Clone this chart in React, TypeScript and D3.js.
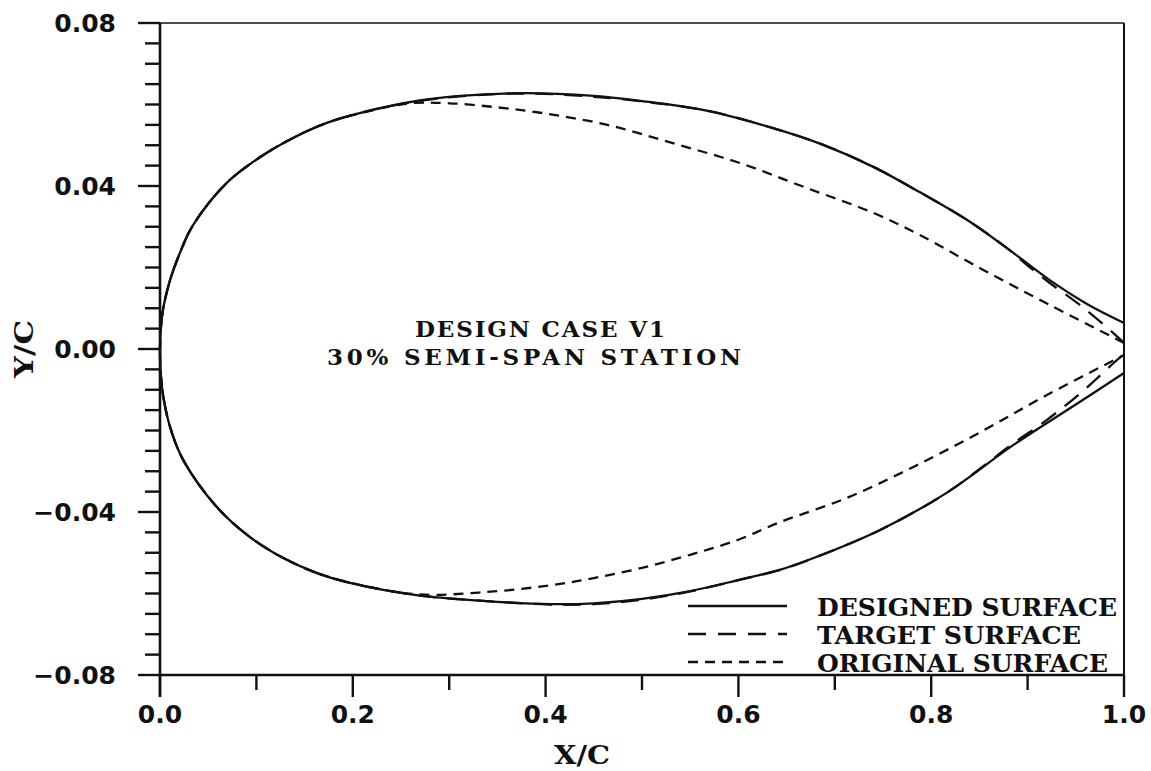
import React from "react";
import * as d3 from "d3";

// ---- data (x/c, y/c) ----
const designedUpper: [number, number][] = [
  [0.0, -0.001], [0.001, 0.0055], [0.0035, 0.0102], [0.0104, 0.0169], [0.02, 0.0232], [0.034, 0.0303], [0.069, 0.0407],
  [0.104, 0.0471], [0.138, 0.0518], [0.173, 0.0555], [0.207, 0.0579], [0.259, 0.0606],
  [0.311, 0.0621], [0.38, 0.0628], [0.45, 0.0621], [0.498, 0.0609], [0.567, 0.0585],
  [0.636, 0.0542], [0.688, 0.0501], [0.74, 0.0447], [0.788, 0.0385], [0.837, 0.0317],
  [0.88, 0.0245], [0.923, 0.0169], [0.962, 0.011], [1.0, 0.0064],
];
const designedLower: [number, number][] = [
  [0.0, -0.001], [0.001, -0.0068], [0.0035, -0.0118], [0.0104, -0.0191], [0.024, -0.0272], [0.059, -0.0388],
  [0.093, -0.0461], [0.128, -0.0513], [0.163, -0.055], [0.197, -0.0574], [0.266, -0.0604],
  [0.335, -0.0618], [0.405, -0.0626], [0.45, -0.0624], [0.5, -0.0613], [0.55, -0.0594],
  [0.6, -0.0567], [0.643, -0.0542], [0.678, -0.0513], [0.747, -0.0444], [0.816, -0.0353],
  [0.885, -0.0236], [0.954, -0.013], [1.0, -0.0059],
];
const targetUpper: [number, number][] = [
  [0.0, -0.001], [0.001, 0.0055], [0.0035, 0.0102], [0.0104, 0.0169], [0.02, 0.0232], [0.034, 0.0303], [0.069, 0.0407],
  [0.104, 0.0471], [0.138, 0.0518], [0.173, 0.0555], [0.207, 0.0579], [0.259, 0.0605],
  [0.311, 0.062], [0.38, 0.0627], [0.45, 0.0619], [0.498, 0.0608], [0.567, 0.0585],
  [0.636, 0.0542], [0.688, 0.0501], [0.74, 0.0447], [0.788, 0.0385], [0.837, 0.0317],
  [0.88, 0.0245], [0.902, 0.0201], [0.923, 0.0162], [0.957, 0.0103], [0.989, 0.0039], [1.0, 0.0015],
];
const targetLower: [number, number][] = [
  [0.0, -0.001], [0.001, -0.0068], [0.0035, -0.0118], [0.0104, -0.0191], [0.024, -0.0272], [0.059, -0.0388],
  [0.093, -0.0461], [0.128, -0.0513], [0.163, -0.055], [0.197, -0.0574], [0.266, -0.0604],
  [0.335, -0.0618], [0.405, -0.0627], [0.45, -0.0626], [0.5, -0.0615], [0.55, -0.0595],
  [0.6, -0.0567], [0.643, -0.0542], [0.678, -0.0513], [0.747, -0.0444], [0.816, -0.0353],
  [0.885, -0.0232], [0.92, -0.0174], [0.954, -0.011], [0.989, -0.0035], [1.0, -0.0012],
];
const originalUpper: [number, number][] = [
  [0.0, -0.001], [0.001, 0.0055], [0.0035, 0.0102], [0.0104, 0.0169], [0.02, 0.0232], [0.034, 0.0303], [0.069, 0.0407],
  [0.104, 0.0471], [0.138, 0.0518], [0.173, 0.0555], [0.207, 0.0578], [0.259, 0.0603],
  [0.3, 0.0603], [0.35, 0.0593], [0.397, 0.0579], [0.464, 0.055], [0.532, 0.0505],
  [0.602, 0.0456], [0.671, 0.0395], [0.74, 0.0334], [0.788, 0.028], [0.854, 0.0194],
  [0.923, 0.0108], [1.0, 0.0015],
];
const originalLower: [number, number][] = [
  [0.0, -0.001], [0.001, -0.0068], [0.0035, -0.0118], [0.0104, -0.0191], [0.024, -0.0272], [0.059, -0.0388],
  [0.093, -0.0461], [0.128, -0.0513], [0.163, -0.055], [0.197, -0.0573], [0.266, -0.0602],
  [0.335, -0.0597], [0.405, -0.058], [0.45, -0.0562], [0.5, -0.0537], [0.55, -0.0505],
  [0.6, -0.0468], [0.643, -0.0425], [0.713, -0.0365], [0.781, -0.029], [0.851, -0.0204],
  [0.92, -0.0113], [1.0, -0.0015],
];

const xMajorTicks = [0, 0.2, 0.4, 0.6, 0.8, 1.0];
const xMinorTicks = [0.1, 0.3, 0.5, 0.7, 0.9];
const yMajorTicks = [-0.08, -0.04, 0, 0.04, 0.08];
const yMinorStep = 0.005;
const xTickLabels = ["0.0", "0.2", "0.4", "0.6", "0.8", "1.0"];
const yTickLabels = ["\u22120.08", "\u22120.04", "0.00", "0.04", "0.08"];
const legendLabels = ["DESIGNED SURFACE", "TARGET SURFACE", "ORIGINAL SURFACE"];
const legendWidths = [300, 264, 291];
const annotation = ["DESIGN CASE V1", "30% SEMI-SPAN STATION"];

const W = 1151;
const H = 771;

export default function App() {
  const x = d3.scaleLinear().domain([0, 1]).range([160, 1124]);
  const y = d3.scaleLinear().domain([-0.08, 0.08]).range([675, 23]);

  const line = d3
    .line<[number, number]>()
    .x((d) => x(d[0]))
    .y((d) => y(d[1]))
    .curve(d3.curveCatmullRom.alpha(0.5));

  const closed = (u: [number, number][], l: [number, number][]) =>
    line([...u.slice().reverse(), ...l.slice(1)]) || "";

  const yMinor = d3.range(-0.08, 0.08 + 1e-9, yMinorStep).filter(
    (v) => !yMajorTicks.some((m) => Math.abs(m - v) < 1e-6)
  );

  const tickFont = "'DejaVu Sans', sans-serif";
  const serifFont = "'DejaVu Serif', 'Liberation Serif', serif";

  const series = [
    { d: closed(originalUpper, originalLower), dash: "10,7" },
    { d: closed(targetUpper, targetLower), dash: "18,11" },
    { d: closed(designedUpper, designedLower), dash: "none" },
  ];

  const legendDash = ["none", "18,12", "10,7"];

  return (
    <svg width={W} height={H} style={{ position: "absolute", left: 0, top: 0, background: "#fff" }}>
      <rect x={0} y={0} width={W} height={H} fill="#fff" />
      {/* frame */}
      <line x1={x(0)} x2={x(1)} y1={y(0.08)} y2={y(0.08)} stroke="#111" strokeWidth={1.6} />
      <line x1={x(1)} x2={x(1)} y1={y(0.08)} y2={y(-0.08) + 22} stroke="#111" strokeWidth={2} />
      <line x1={x(0)} x2={x(1)} y1={y(-0.08)} y2={y(-0.08)} stroke="#111" strokeWidth={2.6} />
      <line x1={x(0)} x2={x(0)} y1={y(0.08)} y2={y(-0.08) + 22} stroke="#111" strokeWidth={2.6} />

      {/* y ticks */}
      {yMajorTicks.map((v, i) => (
        <g key={"ym" + i}>
          <line x1={x(0) - 22} x2={x(0)} y1={y(v)} y2={y(v)} stroke="#111" strokeWidth={2.4} />
          <text
            x={x(0) - 44}
            y={y(v)}
            dy="0.36em"
            textAnchor="end"
            fontFamily={tickFont}
            fontWeight="bold"
            fontSize={25}
            fill="#111"
          >
            {yTickLabels[i]}
          </text>
        </g>
      ))}
      {yMinor.map((v, i) => (
        <line key={"yn" + i} x1={x(0) - 15} x2={x(0)} y1={y(v)} y2={y(v)} stroke="#111" strokeWidth={2.4} />
      ))}

      {/* x ticks */}
      {xMajorTicks.map((v, i) => (
        <g key={"xm" + i}>
          <line x1={x(v)} x2={x(v)} y1={y(-0.08)} y2={y(-0.08) + 22} stroke="#111" strokeWidth={2.4} />
          <text
            x={x(v)}
            y={723}
            textAnchor="middle"
            fontFamily={tickFont}
            fontWeight="bold"
            fontSize={25}
            fill="#111"
          >
            {xTickLabels[i]}
          </text>
        </g>
      ))}
      {xMinorTicks.map((v, i) => (
        <line key={"xn" + i} x1={x(v)} x2={x(v)} y1={y(-0.08)} y2={y(-0.08) + 15} stroke="#111" strokeWidth={2.4} />
      ))}

      {/* axis titles */}
      <text x={582} y={764} textAnchor="middle" fontFamily={serifFont} fontWeight="bold" fontSize={26}
        fill="#111" textLength={56} lengthAdjust="spacingAndGlyphs">
        X/C
      </text>
      <text
        transform={`translate(33,${y(0)}) rotate(-90)`}
        textAnchor="middle"
        fontFamily={serifFont}
        fontWeight="bold"
        fontSize={26}
        fill="#111"
        textLength={58}
        lengthAdjust="spacingAndGlyphs"
      >
        Y/C
      </text>

      {/* curves */}
      {series.map((s, i) => (
        <path
          key={"s" + i}
          d={s.d}
          fill="none"
          stroke="#111"
          strokeWidth={2.3}
          strokeDasharray={s.dash}
          strokeLinejoin="round"
        />
      ))}

      {/* annotation */}
      <text x={540} y={337} textAnchor="middle" fontFamily={serifFont} fontWeight="bold" fontSize={23}
        fill="#111" textLength={250} lengthAdjust="spacing">
        {annotation[0]}
      </text>
      <text x={534} y={365} textAnchor="middle" fontFamily={serifFont} fontWeight="bold" fontSize={23}
        fill="#111" textLength={414} lengthAdjust="spacing">
        {annotation[1]}
      </text>

      {/* legend */}
      {legendLabels.map((lab, i) => {
        const base = 616 + i * 28;
        return (
          <g key={"lg" + i}>
            <line x1={688} x2={787} y1={base - 10} y2={base - 10} stroke="#111" strokeWidth={2.3}
              strokeDasharray={legendDash[i]} />
            <text x={817} y={base} fontFamily={serifFont} fontWeight="bold" fontSize={24} fill="#111"
              textLength={legendWidths[i]} lengthAdjust="spacingAndGlyphs">
              {lab}
            </text>
          </g>
        );
      })}
    </svg>
  );
}
